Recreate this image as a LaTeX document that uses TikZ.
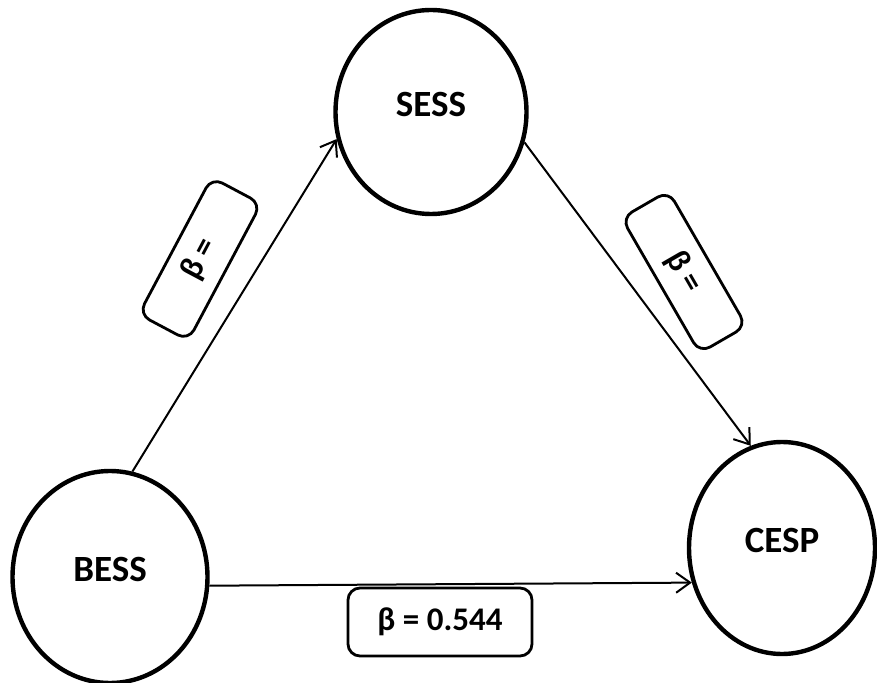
\documentclass[tikz,border=0pt]{standalone}
\usepackage{fontspec}
\setmainfont{Carlito}
\usetikzlibrary{arrows.meta, shapes.geometric}

\begin{document}
\begin{tikzpicture}[
    x=0.5pt, y=-0.5pt,
    construct/.style={ellipse, draw, line width=2.2pt, fill=white, inner sep=0pt,
      text depth=8pt, font=\fontsize{18.5}{22}\selectfont\bfseries},
    coef/.style={draw, rounded corners=6pt, line width=1.4pt, fill=white,
      inner sep=0pt, font=\fontsize{16.5}{20}\selectfont\bfseries},
    link/.style={line width=1pt, -{Straight Barb[length=7pt,width=10pt]}}
  ]
  \useasboundingbox (0,0) rectangle (877,683);
  % constructs
  \node[construct, minimum width=97.5pt, minimum height=106pt] (bess) at (110,577) {BESS};
  \node[construct, minimum width=95.5pt, minimum height=102pt] (sess) at (431,112) {SESS};
  \node[construct, minimum width=93pt, minimum height=106pt] (cesp) at (782,548) {CESP};
  % paths
  \draw[link] (bess.78) -- (sess.196);
  \draw[link] (sess.-18) -- (cesp.107);
  \draw[link] (bess.-5) -- (cesp.201);
  % coefficients
  \node[coef, minimum width=77.5pt, minimum height=28pt, rotate=62] (b1) at (200,259) {β =};
  \node[coef, minimum width=78pt, minimum height=27pt, rotate=-60] (b2) at (684,272) {β =};
  \node[coef, minimum width=92pt, minimum height=34pt] (b3) at (440,622) {β = 0.544};
\end{tikzpicture}
\end{document}
